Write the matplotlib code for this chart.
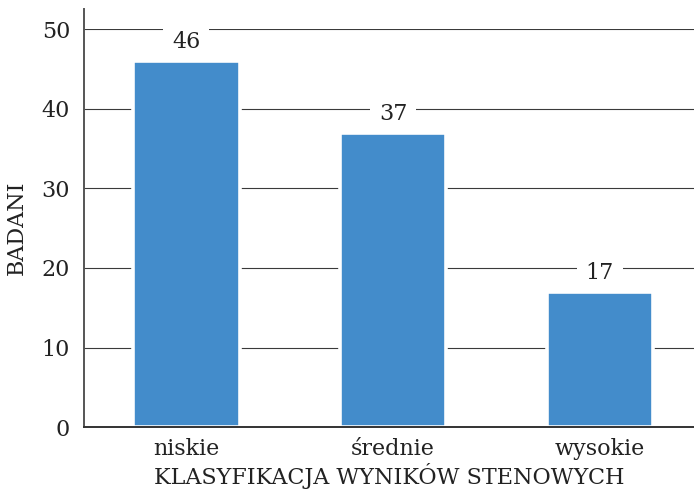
import matplotlib.pyplot as plt

categories = ["niskie", "średnie", "wysokie"]
values = [46, 37, 17]
yticks = [0, 10, 20, 30, 40, 50]

plt.rcParams["font.family"] = ["DejaVu Serif"]

fig = plt.figure(figsize=(6.94, 4.95), dpi=100)
ax = fig.add_axes((0.121, 0.137, 0.879, 0.804))

x = range(len(categories))
ax.bar(x, values, width=0.515, color="#438CCB", edgecolor="white", linewidth=2.6, zorder=2)

for xi, v in zip(x, values):
    ax.annotate(str(v), (xi, v), xytext=(0, 13.5), textcoords="offset points",
                ha="center", va="center", fontsize=16, color="#222222", zorder=3,
                bbox=dict(boxstyle="square,pad=0.4", facecolor="white", edgecolor="none"))

ax.set_xlim(-0.495, 2.455)
ax.set_ylim(0, 50)
ax.set_yticks(yticks)
ax.set_xticks(list(x))
ax.set_xticklabels(categories)
ax.yaxis.grid(True, color="#3a3a3a", linewidth=0.8, zorder=1)
ax.set_axisbelow(True)
ax.tick_params(axis="both", length=0, labelsize=16, colors="#222222")
ax.tick_params(axis="y", pad=10)
ax.tick_params(axis="x", pad=8)

for s in ["top", "right"]:
    ax.spines[s].set_visible(False)
ax.spines["left"].set_color("#555555")
ax.spines["left"].set_linewidth(1.4)
ax.spines["bottom"].set_color("#333333")
ax.spines["bottom"].set_linewidth(1.4)
ax.spines["left"].set_bounds(0, 52.6)
ax.spines["left"].set_clip_on(False)

ax.set_ylabel("BADANI", fontsize=16, color="#222222", labelpad=10)
ax.set_xlabel("KLASYFIKACJA WYNIKÓW STENOWYCH", fontsize=16, color="#222222", labelpad=2)

fig.savefig("out.png", dpi=100)
